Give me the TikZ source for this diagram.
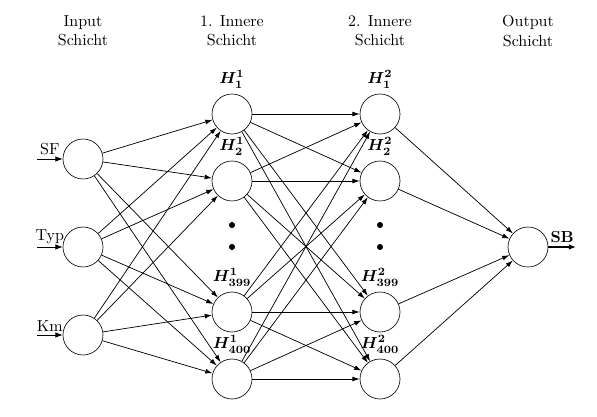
\documentclass[tikz,border=0pt]{standalone}
\usetikzlibrary{arrows.meta}
\begin{document}
\begin{tikzpicture}[x=0.625pt,y=-0.625pt,
  neuron/.style={draw,circle,minimum size=25pt,inner sep=0pt},
  conn/.style={-{Latex[length=4.5pt,width=3pt]},line width=0.45pt},
  ioarrow/.style={-{Latex[length=4.5pt,width=3.5pt]},semithick},
  head/.style={align=center,font=\normalsize},
  hlabel/.style={font=\boldmath},
  dot/.style={fill,circle,inner sep=0pt,minimum size=3.8pt}]
\useasboundingbox (0,0) rectangle (597,417);
% headers
\node[head] (t1) at (83,31) {Input\\Schicht};
\node[head] (t2) at (232,31) {1. Innere\\Schicht};
\node[head] (t3) at (380,31) {2. Innere\\Schicht};
\node[head] (t4) at (528,31) {Output\\Schicht};
% input layer
\node[neuron] (i1) at (83,159) {};
\node[neuron] (i2) at (83,247) {};
\node[neuron] (i3) at (83,335) {};
% hidden 1
\node[neuron,label={[hlabel]above:$H^1_1$}] (h1) at (232,114) {};
\node[neuron,label={[hlabel]above:$H^1_2$}] (h2) at (232,181) {};
\node[neuron,label={[hlabel]above:$H^1_{399}$}] (h3) at (232,312) {};
\node[neuron,label={[hlabel]above:$H^1_{400}$}] (h4) at (232,379) {};
% hidden 2
\node[neuron,label={[hlabel]above:$H^2_1$}] (g1) at (380,114) {};
\node[neuron,label={[hlabel]above:$H^2_2$}] (g2) at (380,181) {};
\node[neuron,label={[hlabel]above:$H^2_{399}$}] (g3) at (380,312) {};
\node[neuron,label={[hlabel]above:$H^2_{400}$}] (g4) at (380,379) {};
% output
\node[neuron] (o) at (528,247) {};
% dots
\node[dot] (d1) at (232,225) {};
\node[dot] (d2) at (232,247) {};
\node[dot] (d3) at (380,225) {};
\node[dot] (d4) at (380,247) {};
% input arrows
\coordinate (a1) at (37,159);
\coordinate (a2) at (37,247);
\coordinate (a3) at (37,335);
\coordinate (b) at (576,247);
\draw[ioarrow] (a1) -- node[above,inner sep=2pt] {SF} (i1);
\draw[ioarrow] (a2) -- node[above,inner sep=2pt] {Typ} (i2);
\draw[ioarrow] (a3) -- node[above,inner sep=2pt] {Km} (i3);
\draw[ioarrow,thick] (o) -- node[above,inner sep=2pt] {\textbf{SB}} (b);
% connections
\foreach \i in {i1,i2,i3}
  \foreach \h in {h1,h2,h3,h4}
    \draw[conn] (\i) -- (\h);
\foreach \h in {h1,h2,h3,h4}
  \foreach \g in {g1,g2,g3,g4}
    \draw[conn] (\h) -- (\g);
\foreach \g in {g1,g2,g3,g4}
  \draw[conn] (\g) -- (o);
\end{tikzpicture}
\end{document}
